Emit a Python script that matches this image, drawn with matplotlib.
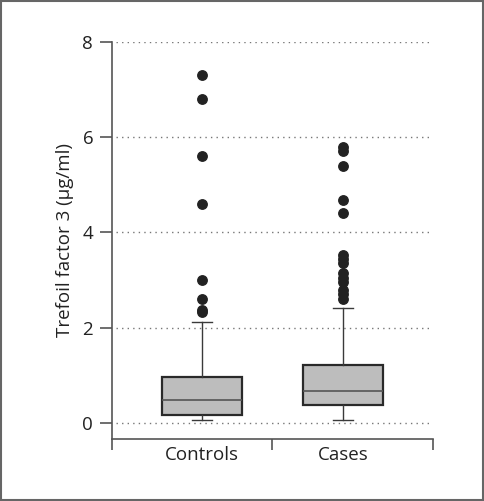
import matplotlib
matplotlib.use('Agg')
import matplotlib.pyplot as plt
from matplotlib.patches import Rectangle

plt.rcParams['font.family'] = ['Open Sans', 'DejaVu Sans']

groups = ['Controls', 'Cases']
q1 = [0.17, 0.38]
median = [0.48, 0.67]
q3 = [0.97, 1.22]
whisker_low = [0.06, 0.06]
whisker_high = [2.12, 2.42]
outliers_controls = [2.33, 2.38, 2.6, 3.0, 4.6, 5.6, 6.8, 7.3]
outliers_cases = [2.6, 2.7, 2.8, 2.95, 3.05, 3.15, 3.35, 3.45, 3.52, 4.41, 4.68, 5.4, 5.71, 5.8]

stats = []
for i, name in enumerate(groups):
    stats.append({
        'label': name,
        'q1': q1[i], 'med': median[i], 'q3': q3[i],
        'whislo': whisker_low[i], 'whishi': whisker_high[i],
        'fliers': [outliers_controls, outliers_cases][i],
    })

fig = plt.figure(figsize=(4.84, 5.01), dpi=100)
ax = fig.add_axes([0.2314, 0.1238, 0.6632, 0.7924])

ax.bxp(stats, positions=[1, 2], widths=0.565, patch_artist=True,
       boxprops=dict(facecolor='#bdbdbd', edgecolor='#2a2a2a', linewidth=1.6),
       medianprops=dict(color='#555555', linewidth=1.2),
       whiskerprops=dict(color='#3a3a3a', linewidth=1.0),
       capprops=dict(color='#3a3a3a', linewidth=1.0),
       capwidths=0.14,
       flierprops=dict(marker='o', markerfacecolor='#222222', markeredgecolor='#222222',
                       markersize=6.8))

# dotted gridlines
for yv in [0, 2, 4, 6, 8]:
    ax.axhline(yv, xmin=0.012, xmax=0.99, color='#777777', linestyle=(0, (1, 3)),
               linewidth=1.0, zorder=0)

ax.set_xlim(0.36, 2.64)
ax.set_ylim(-0.34, 8)
ax.set_yticks([0, 2, 4, 6, 8])
ax.set_xticks([0.36, 1.5, 2.64])
ax.set_xticklabels(['', '', ''])
ax.set_xticks([1, 2], minor=True)
ax.set_xticklabels(groups, minor=True)
ax.tick_params(axis='x', which='major', length=8, width=1.2, color='#555555', direction='out')
ax.tick_params(axis='x', which='minor', length=0, labelsize=13.5, labelcolor='#222222', pad=5)
ax.tick_params(axis='y', length=8.5, width=1.2, color='#555555', labelsize=13.5,
               labelcolor='#222222', pad=5)

for s in ['top', 'right']:
    ax.spines[s].set_visible(False)
for s in ['left', 'bottom']:
    ax.spines[s].set_color('#555555')
    ax.spines[s].set_linewidth(1.2)
ax.spines['left'].set_bounds(-0.34, 8)

ax.set_ylabel('Trefoil factor 3 (μg/ml)', fontsize=13.5, color='#222222', labelpad=6)

# outer frame
fig.patches.append(Rectangle((0.002, 0.002), 0.996, 0.996, transform=fig.transFigure,
                             fill=False, edgecolor='#666666', linewidth=1.5))

fig.savefig('out.png', dpi=100)
